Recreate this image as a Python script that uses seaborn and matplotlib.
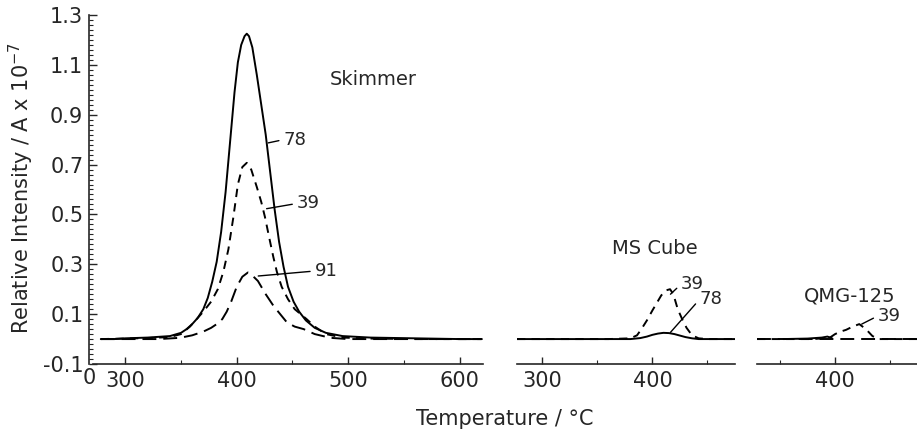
import numpy as np
import matplotlib
matplotlib.use("Agg")
import matplotlib.pyplot as plt
import seaborn as sns
from matplotlib.ticker import MultipleLocator

# ── Data ────────────────────────────────────────
# Skimmer panel
t78 = [278, 290, 300, 320, 340, 350, 355, 360, 365, 370, 374, 378, 382, 386, 390,
       394, 398, 401, 404, 407, 409, 411, 414, 418, 422, 426, 430, 434, 438,
       442, 446, 451, 456, 462, 470, 480, 495, 520, 560, 600, 620]
v78 = [0.0, 0.0, 0.003, 0.006, 0.012, 0.025, 0.04, 0.06, 0.085, 0.12, 0.165, 0.23,
       0.31, 0.43, 0.59, 0.79, 0.99, 1.11, 1.18, 1.215, 1.225, 1.215, 1.17, 1.06,
       0.94, 0.82, 0.67, 0.52, 0.39, 0.29, 0.21, 0.15, 0.11, 0.075, 0.045,
       0.025, 0.012, 0.006, 0.003, 0.0, 0.0]

t39 = [278, 300, 320, 340, 350, 358, 364, 370, 377, 383, 388, 392.5, 397, 401,
       405, 409, 413, 418, 422, 425.3, 429, 432.8, 436, 440.3, 446, 452, 462.7,
       470, 480, 495, 520, 560, 620]
v39 = [0.0, 0.002, 0.004, 0.008, 0.02, 0.05, 0.08, 0.11, 0.15, 0.20, 0.27, 0.36,
       0.49, 0.62, 0.69, 0.707, 0.68, 0.61, 0.55, 0.49, 0.41, 0.33, 0.27, 0.21,
       0.16, 0.12, 0.08, 0.05, 0.02, 0.006, 0.002, 0.0, 0.0]

t91 = [278, 330, 349, 360, 370, 377, 382, 387, 391, 395, 400, 405, 410, 414, 419,
       426, 433, 439, 445, 452, 460, 470, 484, 500, 620]
v91 = [0.0, 0.0, 0.005, 0.015, 0.03, 0.045, 0.06, 0.08, 0.11, 0.15, 0.21, 0.25,
       0.267, 0.255, 0.233, 0.18, 0.133, 0.10, 0.067, 0.05, 0.04, 0.02, 0.005, 0.0, 0.0]

# MS Cube panel
ms_t39 = [277, 360, 380, 386, 390, 395, 400, 404, 408, 412, 416, 419, 423, 427,
          431, 436, 442, 450, 475]
ms_v39 = [0.0, 0.0, 0.003, 0.015, 0.04, 0.075, 0.115, 0.145, 0.175, 0.195, 0.2,
          0.18, 0.12, 0.08, 0.045, 0.015, 0.003, 0.0, 0.0]

ms_t78 = [277, 380, 389, 395, 400, 405, 410, 415, 420, 425, 430, 436, 442, 475]
ms_v78 = [0.0, 0.0, 0.004, 0.01, 0.017, 0.022, 0.025, 0.024, 0.02, 0.014, 0.008,
          0.003, 0.0, 0.0]

# QMG-125 panel
q_t39 = [329, 380, 395, 400, 405, 410, 416, 422, 428, 434, 440, 475]
q_v39 = [0.0, 0.0, 0.005, 0.02, 0.03, 0.037, 0.05, 0.06, 0.04, 0.012, 0.0, 0.0]

q_t91 = [329, 400, 475]
q_v91 = [0.0, 0.0, 0.0]

q_t78 = [353, 375, 388, 393, 397]
q_v78 = [0.0, 0.002, 0.006, 0.01, 0.004]

yticks = [-0.1, 0.1, 0.3, 0.5, 0.7, 0.9, 1.1, 1.3]

# ── Style ───────────────────────────────────────
sns.set_style("ticks")
plt.rcParams["font.family"] = ["DejaVu Sans"]
plt.rcParams["lines.scale_dashes"] = False

SHORT = (6, 4.5)
LONG = (10, 5)

fig = plt.figure(figsize=(9.17, 4.36), dpi=100)
W, H = 917, 436

def px_axes(x0, x1, y0=15, y1=364):
    return fig.add_axes([x0 / W, (H - y1) / H, (x1 - x0) / W, (y1 - y0) / H])

ax1 = px_axes(93, 483)
ax2 = px_axes(517, 735)
ax3 = px_axes(757, 917)

def draw(ax, t, v, dashes=None):
    sns.lineplot(x=t, y=v, ax=ax, color="k", lw=1.4, estimator=None)
    if dashes is not None:
        ax.get_lines()[-1].set_dashes(dashes)

draw(ax1, t78, v78)
draw(ax1, t39, v39, SHORT)
draw(ax1, t91, v91, LONG)

draw(ax2, ms_t78, ms_v78)
draw(ax2, ms_t39, ms_v39, SHORT)

draw(ax3, q_t78, q_v78)
draw(ax3, q_t91, q_v91, LONG)
draw(ax3, q_t39, q_v39, SHORT)

ax1.set_xlim(271, 621)
ax2.set_xlim(277, 475)
ax3.set_xlim(329, 474.5)

for ax in (ax1, ax2, ax3):
    ax.set_ylim(-0.1, 1.3)
    ax.spines["top"].set_visible(False)
    ax.spines["right"].set_visible(False)
    ax.spines["bottom"].set_linewidth(1.2)
    ax.xaxis.set_minor_locator(MultipleLocator(50))
    ax.tick_params(axis="x", which="major", direction="in", length=5, width=1,
                   labelsize=15, pad=5)
    ax.tick_params(axis="x", which="minor", direction="in", length=3, width=0.8)
    ax.set_xlabel("")
    ax.set_ylabel("")

ax1.set_xticks([300, 400, 500, 600])
ax2.set_xticks([300, 400])
ax3.set_xticks([400])

ax1.spines["left"].set_position(("outward", 3))
ax1.spines["left"].set_linewidth(1.2)
ax1.set_yticks(yticks)
ax1.set_yticklabels([f"{v:.1f}" for v in yticks])
ax1.yaxis.set_minor_locator(MultipleLocator(0.02))
ax1.tick_params(axis="y", which="major", direction="in", length=6, width=1,
                labelsize=15, pad=4)
ax1.tick_params(axis="y", which="minor", direction="in", length=3, width=0.8)

for ax in (ax2, ax3):
    ax.spines["left"].set_visible(False)
    ax.tick_params(axis="y", which="both", left=False, labelleft=False)

# ── Labels ──────────────────────────────────────
lead = dict(arrowstyle="-", lw=1, color="k", shrinkA=1, shrinkB=0, relpos=(0, 0.5))

ax1.text(483.5, 1.04, "Skimmer", fontsize=14, ha="left", va="center")
ax1.annotate("78", xy=(428.3, 0.787), xytext=(442, 0.80), fontsize=13,
             ha="left", va="center", arrowprops=lead)
ax1.annotate("39", xy=(426.8, 0.523), xytext=(454, 0.544), fontsize=13,
             ha="left", va="center", arrowprops=lead)
ax1.annotate("91", xy=(419.3, 0.253), xytext=(470, 0.273), fontsize=13,
             ha="left", va="center", arrowprops=lead)

ax2.text(363.6, 0.364, "MS Cube", fontsize=14, ha="left", va="center")
ax2.annotate("39", xy=(416.4, 0.18), xytext=(426, 0.22), fontsize=13,
             ha="left", va="center", arrowprops=lead)
ax2.annotate("78", xy=(416.4, 0.027), xytext=(443, 0.16), fontsize=13,
             ha="left", va="center", arrowprops=lead)

ax3.text(413.6, 0.173, "QMG-125", fontsize=14, ha="center", va="center")
ax3.annotate("39", xy=(424.2, 0.06), xytext=(439, 0.093), fontsize=13,
             ha="left", va="center", arrowprops=lead)

fig.text(21 / W, 1 - 188.5 / H, "Relative Intensity / A x 10$^{-7}$",
         rotation=90, fontsize=15, ha="center", va="center")
fig.text(505 / W, 1 - 419 / H, "Temperature / °C", fontsize=15,
         ha="center", va="center")
fig.text(89 / W, 1 - 378 / H, "0", fontsize=15, ha="center", va="center")

fig.savefig("out.png", dpi=100)
